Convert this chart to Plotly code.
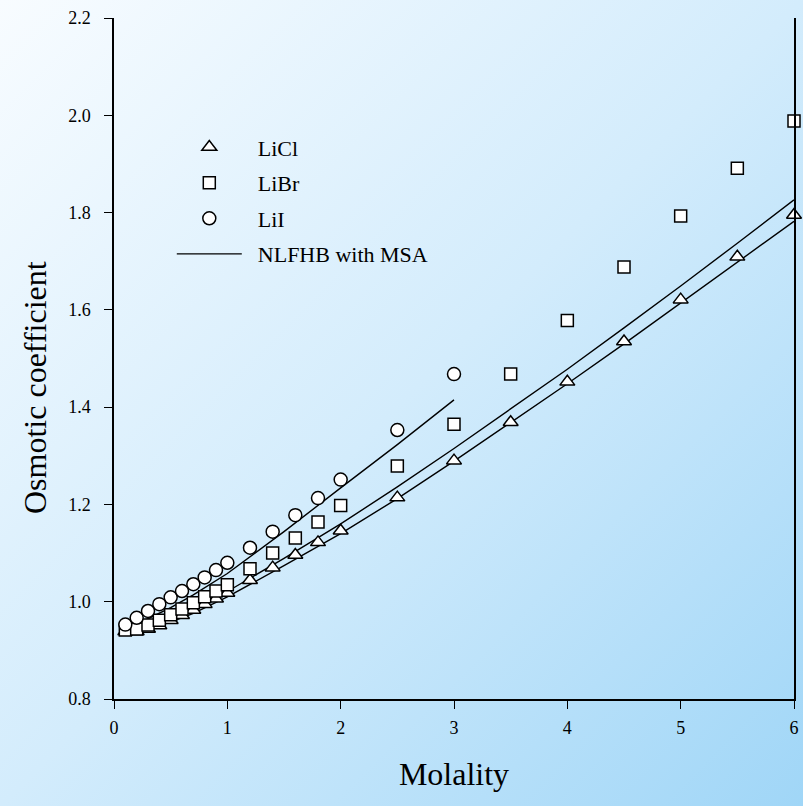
import base64
import plotly.graph_objects as go

# ---- data ----
m_licl = [0.1, 0.2, 0.3, 0.4, 0.5, 0.6, 0.7, 0.8, 0.9, 1.0, 1.2, 1.4, 1.6, 1.8, 2.0,
          2.5, 3.0, 3.5, 4.0, 4.5, 5.0, 5.5, 6.0]
phi_licl = [0.939, 0.939, 0.944, 0.951, 0.962, 0.972, 0.983, 0.995, 1.006, 1.018,
            1.044, 1.070, 1.096, 1.122, 1.146, 1.214, 1.290, 1.369, 1.452, 1.535,
            1.621, 1.709, 1.795]

m_libr = [0.1, 0.2, 0.3, 0.4, 0.5, 0.6, 0.7, 0.8, 0.9, 1.0, 1.2, 1.4, 1.6, 1.8, 2.0,
          2.5, 3.0, 3.5, 4.0, 4.5, 5.0, 5.5, 6.0]
phi_libr = [0.942, 0.944, 0.952, 0.962, 0.973, 0.985, 0.998, 1.010, 1.022, 1.035,
            1.068, 1.100, 1.131, 1.164, 1.198, 1.279, 1.365, 1.468, 1.578, 1.688,
            1.793, 1.891, 1.988]

m_lii = [0.1, 0.2, 0.3, 0.4, 0.5, 0.6, 0.7, 0.8, 0.9, 1.0, 1.2, 1.4, 1.6, 1.8, 2.0,
         2.5, 3.0]
phi_lii = [0.953, 0.967, 0.981, 0.995, 1.009, 1.022, 1.036, 1.050, 1.065, 1.080,
           1.111, 1.144, 1.178, 1.213, 1.251, 1.353, 1.468]

# NLFHB with MSA model curves
m_fit_licl = [0.1, 0.3, 0.5, 0.7, 1.0, 1.5, 2.0, 2.5, 3.0, 3.5, 4.0, 4.5, 5.0, 5.5, 6.0]
phi_fit_licl = [0.936, 0.944, 0.958, 0.976, 1.010, 1.074, 1.140, 1.212, 1.289, 1.368,
                1.448, 1.530, 1.614, 1.698, 1.782]
m_fit_libr = [0.1, 0.3, 0.5, 0.7, 1.0, 1.5, 2.0, 2.5, 3.0, 3.5, 4.0, 4.5, 5.0, 5.5, 6.0]
phi_fit_libr = [0.940, 0.950, 0.965, 0.985, 1.021, 1.089, 1.160, 1.236, 1.315, 1.396,
                1.478, 1.563, 1.649, 1.737, 1.826]
m_fit_lii = [0.1, 0.3, 0.5, 0.7, 1.0, 1.5, 2.0, 2.5, 3.0]
phi_fit_lii = [0.946, 0.965, 0.988, 1.014, 1.058, 1.144, 1.234, 1.323, 1.415]

x_ticks = [0, 1, 2, 3, 4, 5, 6]
y_ticks = [0.8, 1.0, 1.2, 1.4, 1.6, 1.8, 2.0, 2.2]

W, H = 803, 806
ML, MR, MT, MB = 114, 9, 18, 107

FONT = "Liberation Serif"
NB = "\u00a0\u00a0"

fig = go.Figure()

line_style = dict(color="black", width=1.4)
fig.add_trace(go.Scatter(x=m_fit_licl, y=phi_fit_licl, mode="lines", line=line_style,
                         name=NB + "NLFHB with MSA", legendrank=4, legendgroup="d"))
fig.add_trace(go.Scatter(x=m_fit_libr, y=phi_fit_libr, mode="lines", line=line_style,
                         showlegend=False, legendgroup="d"))
fig.add_trace(go.Scatter(x=m_fit_lii, y=phi_fit_lii, mode="lines", line=line_style,
                         showlegend=False, legendgroup="d"))

mk_line = dict(color="black", width=1.5)
fig.add_trace(go.Scatter(x=m_licl, y=phi_licl, mode="markers", name=NB + "LiCl",
                         legendrank=1, legendgroup="a", cliponaxis=False,
                         marker=dict(symbol="triangle-up", size=13, color="white", line=mk_line)))
fig.add_trace(go.Scatter(x=m_libr, y=phi_libr, mode="markers", name=NB + "LiBr",
                         legendrank=2, legendgroup="b", cliponaxis=False,
                         marker=dict(symbol="square", size=12, color="white", line=mk_line)))
fig.add_trace(go.Scatter(x=m_lii, y=phi_lii, mode="markers", name=NB + "LiI",
                         legendrank=3, legendgroup="c", cliponaxis=False,
                         marker=dict(symbol="circle", size=13, color="white", line=mk_line)))

# gradient background
svg = ('<svg xmlns="http://www.w3.org/2000/svg" width="803" height="806" preserveAspectRatio="none">'
       '<defs><linearGradient id="g" x1="0" y1="0" x2="1" y2="1">'
       '<stop offset="0" stop-color="#f8fcff"/>'
       '<stop offset="0.5" stop-color="#d3ecfc"/>'
       '<stop offset="1" stop-color="#a0d6f7"/>'
       '</linearGradient></defs>'
       '<rect width="803" height="806" fill="url(#g)"/></svg>')
src = "data:image/svg+xml;base64," + base64.b64encode(svg.encode()).decode()
pw = W - ML - MR
ph = H - MT - MB
fig.add_layout_image(dict(source=src, xref="paper", yref="paper",
                          x=-ML / pw, y=1 + MT / ph, sizex=W / pw, sizey=H / ph,
                          sizing="stretch", xanchor="left", yanchor="top",
                          layer="below"))

# y-axis title placed as annotation (it sits a little below the plot centre)
fig.add_annotation(text="Osmotic coefficient", textangle=-90, showarrow=False,
                   xref="paper", yref="paper",
                   x=(35 - ML) / pw, y=(H - MB - 388) / ph,
                   xanchor="center", yanchor="middle",
                   font=dict(family=FONT, size=32, color="black"))

axis_common = dict(showgrid=False, zeroline=False, showline=True, linecolor="black",
                   linewidth=1.5, ticks="outside", ticklen=8, tickwidth=1.3,
                   tickcolor="black", automargin=False,
                   tickfont=dict(family=FONT, size=18, color="black"))

fig.update_layout(
    width=W, height=H,
    margin=dict(l=ML, r=MR, t=MT, b=MB, autoexpand=False),
    paper_bgcolor="rgba(0,0,0,0)", plot_bgcolor="rgba(0,0,0,0)",
    font=dict(family=FONT, color="black"),
    showlegend=True,
    legend=dict(x=0.085, y=0.841, xanchor="left", yanchor="top",
                bgcolor="rgba(0,0,0,0)", borderwidth=0,
                font=dict(family=FONT, size=22, color="black"),
                itemwidth=65, tracegroupgap=4),
    xaxis=dict(range=[0, 6], tickvals=x_ticks, ticktext=[str(v) for v in x_ticks],
               title=dict(text="Molality", font=dict(family=FONT, size=32), standoff=25),
               ticklabelstandoff=4, mirror=False, **axis_common),
    yaxis=dict(range=[0.8, 2.2], tickvals=y_ticks, ticktext=[f"{v:.1f}" for v in y_ticks],
               ticklabelstandoff=10, mirror=True, **axis_common),
)

fig.write_html("out.html",
               config={"displayModeBar": False},
               post_script="document.body.style.margin='0';document.body.style.overflow='hidden';")
